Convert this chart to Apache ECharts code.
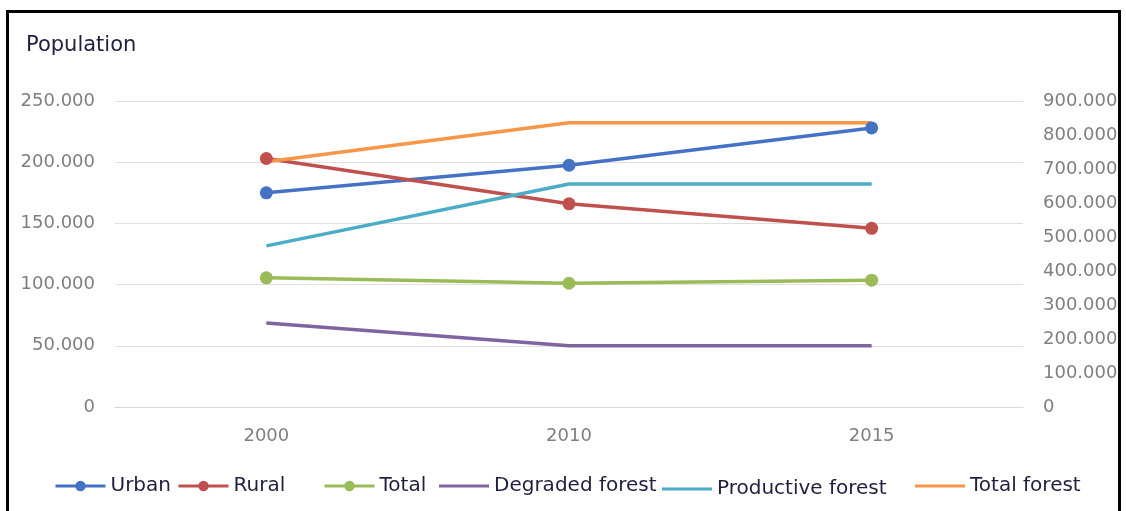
<!DOCTYPE html>
<html>
<head>
<meta charset="utf-8">
<script src="https://cdn.jsdelivr.net/npm/echarts@6/dist/echarts.min.js"></script>
<style>
html,body{margin:0;padding:0;background:#fff;}
#chart{position:absolute;left:0;top:0;width:1126px;height:511px;}
#frame{position:absolute;left:6px;top:10px;width:1109px;height:520px;border:3px solid #000;pointer-events:none;z-index:10;}
</style>
</head>
<body>
<div id="chart"></div>
<div id="frame"></div>
<script>
const years = ['2000', '2010', '2015'];
const urban = [175000, 197500, 228000];
const rural = [203000, 166000, 146000];
const total = [380000, 364000, 373000];
const degradedForest = [247000, 180000, 180000];
const productiveForest = [474000, 656000, 656000];
const totalForest = [721000, 836000, 836000];
const leftTicks = [0, 50000, 100000, 150000, 200000, 250000];
const rightTicks = [0, 100000, 200000, 300000, 400000, 500000, 600000, 700000, 800000, 900000];

const FONT = 'DejaVu Sans';
const fmt = v => v === 0 ? '0' : Math.round(v / 1000) + '.000';

const chart = echarts.init(document.getElementById('chart'), null, {renderer: 'canvas'});

function mk(name, data, color, axis, marker) {
  return {
    name: name, type: 'line', data: data, yAxisIndex: axis,
    symbol: marker ? 'circle' : 'none', symbolSize: 13, showSymbol: marker,
    lineStyle: {color: color, width: 3.5},
    itemStyle: {color: color},
    emphasis: {disabled: true},
    animation: false
  };
}
function lg(name, left, top, lineOnly) {
  const o = {
    left: left, top: top, itemWidth: 50, itemHeight: lineOnly ? 3 : 13, itemGap: 0,
    textStyle: {fontFamily: FONT, fontSize: 20, color: '#1f1f3f'},
    lineStyle: {width: 3},
    selectedMode: false
  };
  o.data = lineOnly ? [{name: name, icon: 'path://M0,0H50V3H0Z'}] : [name];
  return o;
}

chart.setOption({
  animation: false,
  title: {text: 'Population', left: 21, top: 30,
    textStyle: {fontFamily: FONT, fontSize: 21, fontWeight: 'normal', color: '#1f1f3f'}},
  grid: {left: 115, right: 103, top: 101, bottom: 104},
  legend: [
    lg('Urban', 49, 471, false),
    lg('Rural', 172, 471, false),
    lg('Total', 318, 471, false),
    lg('Degraded forest', 434, 471, true),
    lg('Productive forest', 657, 474, true),
    lg('Total forest', 910, 471, true)
  ],
  xAxis: {
    type: 'category', data: years, boundaryGap: true,
    axisLine: {show: true, lineStyle: {color: '#d9d9d9', width: 1}},
    axisTick: {show: false},
    axisLabel: {fontFamily: FONT, fontSize: 18, color: '#7f7f7f', margin: 20}
  },
  yAxis: [
    {type: 'value', min: leftTicks[0], max: leftTicks[leftTicks.length - 1], interval: 50000,
      axisLine: {show: false}, axisTick: {show: false},
      splitLine: {lineStyle: {color: '#e0e0e0', width: 1}},
      axisLabel: {fontFamily: FONT, fontSize: 18, color: '#7f7f7f', margin: 20, formatter: fmt}},
    {type: 'value', min: rightTicks[0], max: rightTicks[rightTicks.length - 1], interval: 100000,
      position: 'right',
      axisLine: {show: false}, axisTick: {show: false}, splitLine: {show: false},
      axisLabel: {fontFamily: FONT, fontSize: 18, color: '#7f7f7f', margin: 20, formatter: fmt}}
  ],
  series: [
    mk('Urban', urban, '#4472C4', 0, true),
    mk('Rural', rural, '#C0504D', 0, true),
    mk('Total', total, '#9BBB59', 1, true),
    mk('Degraded forest', degradedForest, '#8064A2', 1, false),
    mk('Productive forest', productiveForest, '#4BACC6', 1, false),
    mk('Total forest', totalForest, '#F79646', 1, false)
  ]
});
</script>
</body>
</html>
